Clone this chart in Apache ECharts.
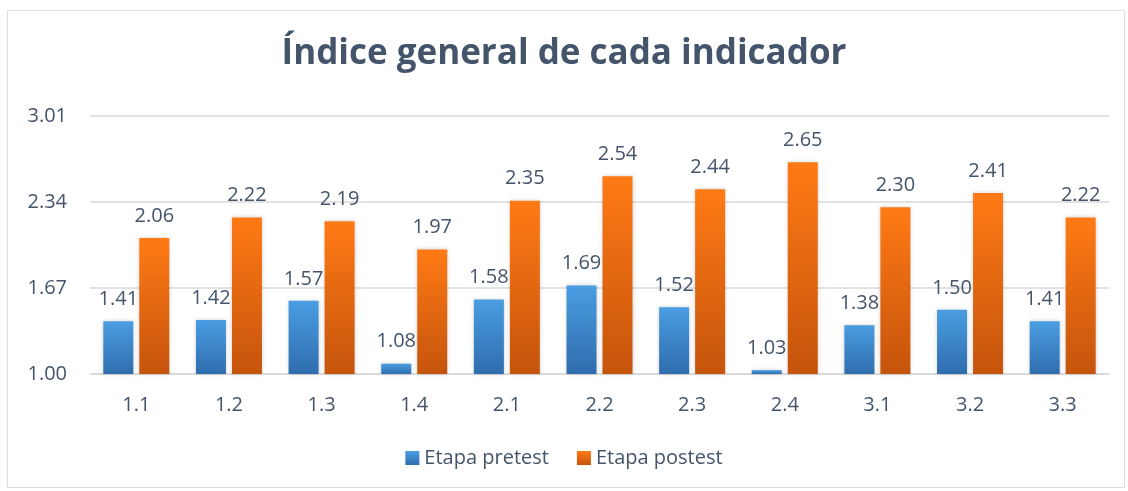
<!DOCTYPE html>
<html><head><meta charset="utf-8">
<script src="https://cdn.jsdelivr.net/npm/echarts@6/dist/echarts.min.js"></script>
<style>html,body{margin:0;padding:0;background:#fff}#c{width:1128px;height:491px}</style>
</head><body><div id="c"></div>
<script>
const categories = ['1.1','1.2','1.3','1.4','2.1','2.2','2.3','2.4','3.1','3.2','3.3'];
const pretest = [1.41,1.42,1.57,1.08,1.58,1.69,1.52,1.03,1.38,1.50,1.41];
const postest = [2.06,2.22,2.19,1.97,2.35,2.54,2.44,2.65,2.30,2.41,2.22];
const seriesNames = ['Etapa pretest','Etapa postest'];
const axisBase = 1.00, axisStep = 0.67, axisTop = 3.01;

const txt = '#44546A';
const font = '"Open Sans", sans-serif';
function grad(top, bottom){
  return new echarts.graphic.LinearGradient(0,0,0,1,[{offset:0,color:top},{offset:1,color:bottom}]);
}
function mk(name, vals, c1, c2){
  return {
    name, type:'bar', barWidth:30, barGap:'20%',
    data: vals.map(v => +(v-axisBase).toFixed(4)),
    itemStyle:{color:grad(c1,c2), shadowBlur:4, shadowColor:'rgba(0,0,0,0.18)'},
    label:{show:true, position:'top', distance:12, color:txt, fontSize:20, fontFamily:font,
      formatter: p => vals[p.dataIndex].toFixed(2)}
  };
}
const chart = echarts.init(document.getElementById('c'));
chart.setOption({
  animation:false,
  graphic:[{type:'rect', shape:{x:7.5,y:10.5,width:1117,height:477}, style:{fill:'none', stroke:'#D9DEE6', lineWidth:1}, silent:true}],
  title:{text:'Índice general de cada indicador', left:'center', top:32, padding:[5,5,5,21],
    textStyle:{color:txt, fontSize:35, fontWeight:'bold', fontFamily:font}},
  legend:{bottom:18, left:'center', padding:[5,5,5,15], itemWidth:14, itemHeight:14, itemGap:28,
    textStyle:{color:txt, fontSize:20, fontFamily:font},
    data: seriesNames.map(n=>({name:n, icon:'rect'}))},
  grid:{left:90, right:19, top:116, bottom:117},
  xAxis:{type:'category', data:categories,
    axisLine:{lineStyle:{color:'#D9D9D9', width:1.5}}, axisTick:{show:false},
    axisLabel:{color:txt, fontSize:20, fontFamily:font, margin:21}},
  yAxis:{type:'value', min:0, max:+(axisTop-axisBase).toFixed(2), interval:axisStep,
    axisLine:{show:false}, axisTick:{show:false},
    splitLine:{lineStyle:{color:'#D9D9D9', width:1.5}},
    axisLabel:{color:txt, fontSize:20, fontFamily:font, margin:23,
      formatter: v => (v+axisBase).toFixed(2)}},
  series:[mk(seriesNames[0], pretest, '#4A9DE2', '#2F6DAE'), mk(seriesNames[1], postest, '#FF7A15', '#C5540C')]
});
</script></body></html>
